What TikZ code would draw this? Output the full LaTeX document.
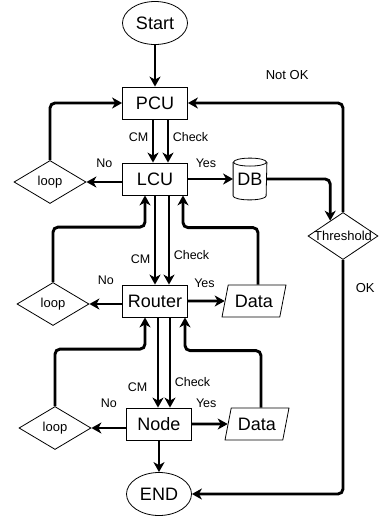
\documentclass[tikz,border=0pt]{standalone}
\usepackage{fontspec}
\setmainfont{Liberation Sans}
\usetikzlibrary{shapes.geometric,arrows.meta}

\begin{document}
\begin{tikzpicture}[%
x=1pt, y=-1pt,
box/.style={draw, line width=0.8pt, minimum width=65pt, minimum height=32pt, inner sep=0pt, font=\fontsize{18}{20}\selectfont},
term/.style={box, ellipse, minimum height=43pt},
decision/.style={draw, diamond, line width=0.8pt, minimum width=72pt, minimum height=43pt, inner sep=0pt, font=\fontsize{13}{15}\selectfont},
dataio/.style={box, trapezium, trapezium left angle=70, trapezium right angle=110, trapezium stretches, minimum width=64pt},
store/.style={box, draw=none, minimum width=33pt, minimum height=41pt},
flow/.style={line width=2.9pt, rounded corners=5pt, -{Stealth[length=10pt,width=11pt,inset=3pt]}},
lbl/.style={font=\fontsize{12.5}{14}\selectfont},
note/.style={font=\fontsize{13}{15}\selectfont},
]
\useasboundingbox (0,0) rectangle (378,517);
%% shapes;
\node[term] (start) at (155,23) {Start};
\node[box] (pcu) at (155,103) {PCU};
\node[box] (lcu) at (155,179) {LCU};
\node[decision] (loopa) at (50,182) {loop};
\node[store] (db) at (250,179) {DB};
\draw[line width=0.8pt] ([yshift=-4pt]db.north) ellipse [x radius=16.5pt, y radius=4pt];
\draw[line width=0.8pt] ([yshift=-4pt]db.north west) -- ([yshift=4pt]db.south west)
  arc[start angle=180, end angle=360, x radius=16.5pt, y radius=4pt] -- ([yshift=-4pt]db.north east);
\node[decision, minimum width=70pt, minimum height=47pt, label={[note]center:Threshold}] (thr) at (343,236) {};
\node[box] (router) at (155,301) {Router};
\node[dataio] (dataa) at (254,301) {Data};
\node[decision] (loopb) at (53,304) {loop};
\node[box] (sensor) at (159,424) {Node};
\node[dataio] (datab) at (257,424) {Data};
\node[decision] (loopc) at (55,428) {loop};
\node[term] (stop) at (159,494) {END};
%% PCU level;
\draw[flow] (start) -- (pcu);
\draw[flow] ([xshift=-2pt]pcu.south) -- node[lbl,left,pos=0.41]{CM} ([xshift=-2pt]lcu.north);
\draw[flow] ([xshift=13pt]pcu.south) -- node[lbl,right,pos=0.41]{Check} ([xshift=13pt]lcu.north);
\draw[flow] (lcu.west |- loopa.east) -- node[lbl,above=10pt]{No} (loopa.east);
\draw[flow] (loopa.north) |- (pcu.west);
\draw[flow] (lcu.east) -- node[lbl,above=7pt,pos=0.4]{Yes} (db.west);
\draw[flow] (db.east) -| (thr.130);
\draw[flow] (thr.north) |- node[note,pos=0.68,above=19pt]{Not OK} (pcu.east);
\draw[flow] (thr.south) |- node[note,pos=0.06,right=8pt]{OK} (stop.east);
%% LCU level;
\draw[flow] (lcu.south) -- node[lbl,left,pos=0.72]{CM} (lcu.south |- router.north);
\draw[flow] ([xshift=14pt]lcu.south) -- node[lbl,right,pos=0.67]{Check} ([xshift=14pt]lcu.south |- router.north);
\draw[flow] (loopb.north) -- ++(0,-55) -| ([xshift=-10pt]lcu.south);
\draw[flow] ([xshift=4pt]dataa.north) -- ++(0,-57) -| ([xshift=28pt]lcu.south);
\draw[flow] (router.west |- loopb.east) -- node[lbl,above=15pt]{No} (loopb.east);
\draw[flow] (router.east) -- node[lbl,above=9pt,pos=0.45]{Yes} (dataa.west);
%% router level;
\draw[flow] ([xshift=3pt]router.south) -- node[lbl,left=6pt,pos=0.77]{CM} ([xshift=3pt]router.south |- sensor.north);
\draw[flow] ([xshift=15pt]router.south) -- node[lbl,right,pos=0.72]{Check} ([xshift=15pt]router.south |- sensor.north);
\draw[flow] (loopc.north) -- ++(0,-57) -| ([xshift=-10pt]router.south);
\draw[flow] ([xshift=4pt]datab.north) -- ++(0,-57) -| ([xshift=30pt]router.south);
\draw[flow] (sensor.west |- loopc.east) -- node[lbl,above=16pt]{No} (loopc.east);
\draw[flow] (sensor.east) -- node[lbl,above=12pt,pos=0.4]{Yes} (datab.west);
\draw[flow] (sensor) -- (stop);
\end{tikzpicture}
\end{document}
